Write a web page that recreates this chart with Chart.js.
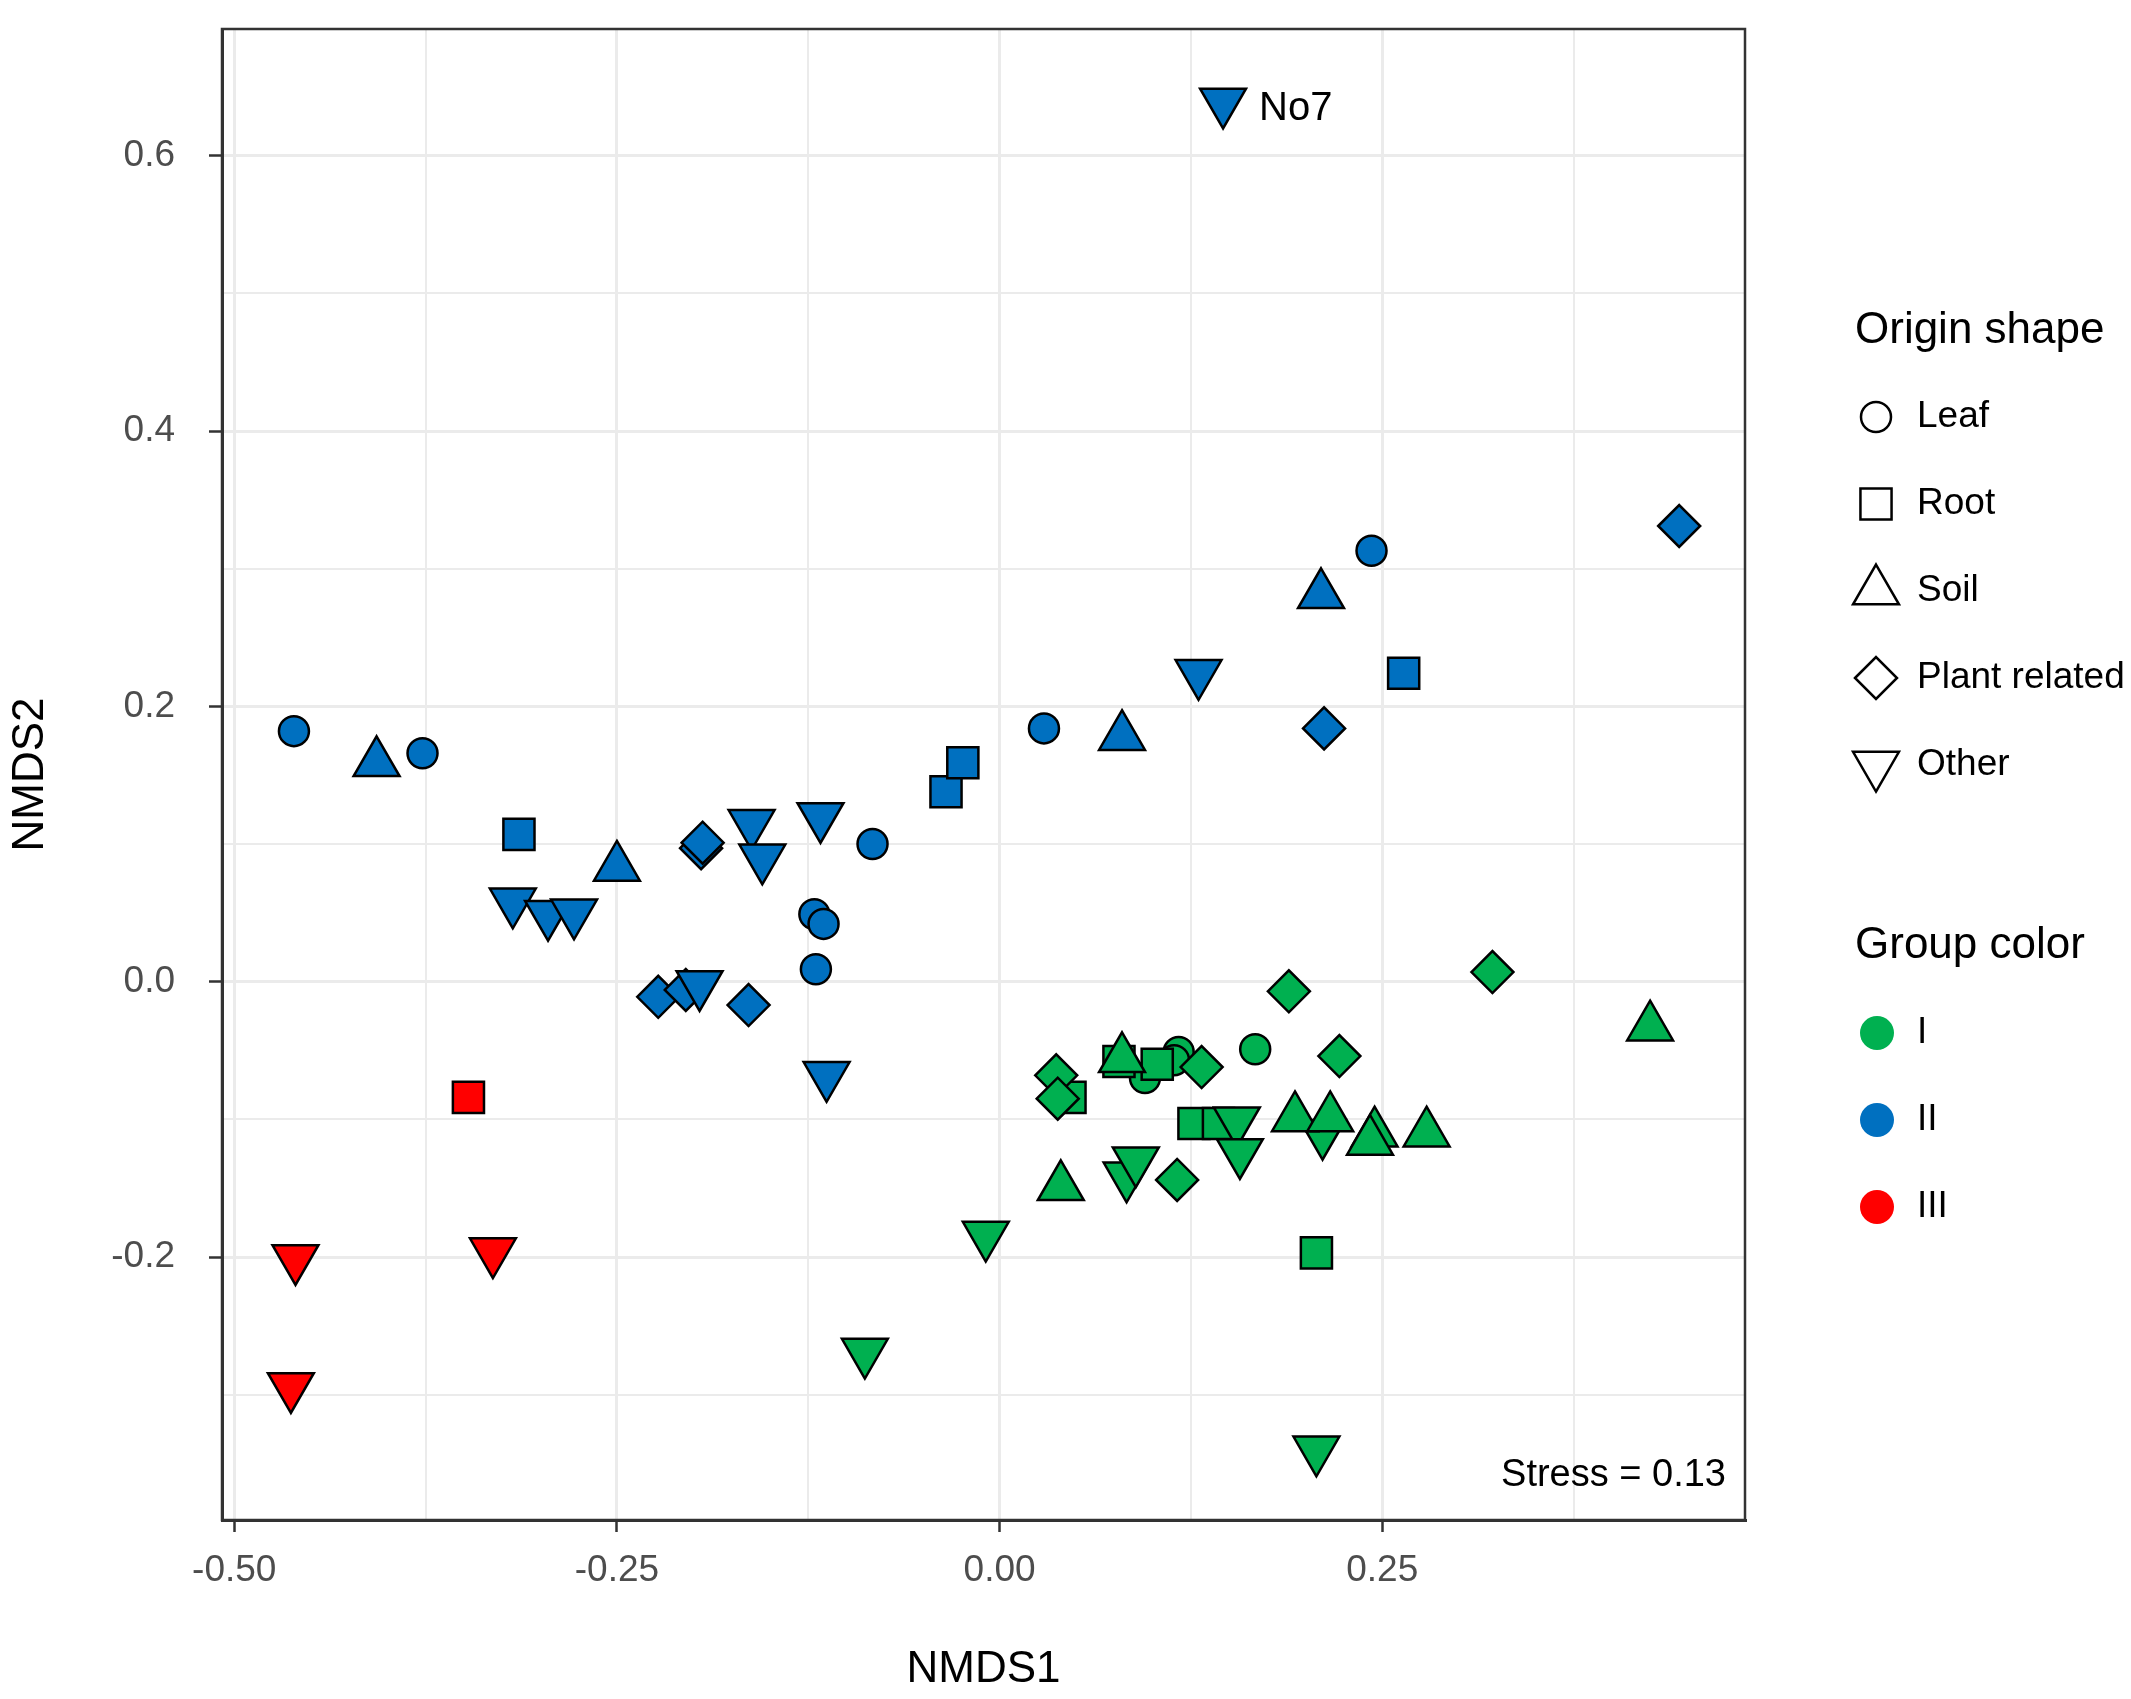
<!DOCTYPE html>
<html>
<head>
<meta charset="utf-8">
<title>NMDS</title>
<script src="https://cdn.jsdelivr.net/npm/chart.js@4.4.1/dist/chart.umd.min.js"></script>
<style>
  html, body { margin: 0; padding: 0; background: #fff; }
  #wrap { width: 2131px; height: 1699px; }
</style>
</head>
<body>
<div id="wrap"><canvas id="grafico" width="2131" height="1699"></canvas></div>
<script>
// pontos [NMDS1, NMDS2] por grupo (cor) e origem (forma)
const g1Leaf = [[0.167, -0.049], [0.095, -0.070], [0.117, -0.051], [0.114, -0.057]]
const g1Root = [[0.078, -0.058], [0.103, -0.060], [0.046, -0.084], [0.127, -0.103], [0.143, -0.103], [0.207, -0.197]]
const g1Soil = [[0.080, -0.056], [0.193, -0.099], [0.216, -0.099], [0.245, -0.110], [0.242, -0.116], [0.279, -0.110], [0.040, -0.149], [0.425, -0.033]]
const g1Plant = [[0.189, -0.007], [0.222, -0.054], [0.132, -0.062], [0.037, -0.068], [0.038, -0.085], [0.116, -0.144], [0.322, 0.007]]
const g1Other = [[0.155, -0.101], [0.157, -0.124], [0.211, -0.110], [0.083, -0.141], [0.089, -0.130], [-0.009, -0.184], [-0.088, -0.269], [0.207, -0.340]]

const g2Leaf = [[-0.461, 0.182], [-0.377, 0.166], [-0.083, 0.100], [-0.121, 0.049], [-0.115, 0.042], [-0.120, 0.009], [0.029, 0.184], [0.243, 0.313]]
const g2Root = [[-0.314, 0.107], [-0.035, 0.138], [-0.024, 0.159], [0.264, 0.224]]
const g2Soil = [[-0.407, 0.159], [-0.250, 0.083], [0.080, 0.178], [0.210, 0.281]]
const g2Plant = [[-0.195, 0.097], [-0.194, 0.101], [-0.223, -0.011], [-0.205, -0.006], [-0.164, -0.017], [0.212, 0.184], [0.444, 0.331]]
const g2Other = [[-0.318, 0.058], [-0.295, 0.049], [-0.278, 0.050], [-0.162, 0.115], [-0.155, 0.090], [-0.117, 0.120], [-0.196, -0.002], [-0.113, -0.068], [0.130, 0.224], [0.146, 0.639]]

const g3Root = [[-0.347, -0.084]]
const g3Other = [[-0.460, -0.201], [-0.331, -0.196], [-0.463, -0.294]]

const shapeNames = ['Leaf', 'Root', 'Soil', 'Plant related', 'Other']
const groupNames = ['I', 'II', 'III']
const groupColors = ['#00b050', '#0070c0', '#ff0000']
const xTicks = [-0.50, -0.25, 0.00, 0.25]
const yTicks = [-0.2, 0.0, 0.2, 0.4, 0.6]
const labelNo7 = { text: 'No7', point: [0.146, 0.639] }
const stressText = 'Stress = 0.13'

const FONTE = "'Liberation Sans', Arial, sans-serif"

// forma de cada origem
const estilos = ['circle', 'rect', 'triangle', 'rectRot', 'triangle']
const rotacoes = [0, 0, 0, 0, 180]
const raios = [15, 22, 26.5, 21, 26.5]

// ordem de desenho: [grupo, forma, dados]
const series = [
    [0, 2, g1Soil], [0, 4, g1Other], [0, 3, g1Plant], [0, 1, g1Root], [0, 0, g1Leaf],
    [1, 4, g2Other], [1, 3, g2Plant], [1, 2, g2Soil], [1, 1, g2Root], [1, 0, g2Leaf],
    [2, 1, g3Root], [2, 4, g3Other]
]

function ehMajor(lista, v) {
    return lista.some(t => Math.abs(t - v) < 1e-6)
}

// sem folga extra dos rótulos: o painel fica onde o layout manda
function semFolga(s) {
    s.paddingTop = 0
    s.paddingBottom = 0
    s.paddingLeft = 0
    s.paddingRight = 0
}

function desenhaForma(ctx, forma, x, y) {
    const r = raios[forma]
    ctx.beginPath()
    if (forma === 0) {
        ctx.arc(x, y, r, 0, Math.PI * 2)
    } else if (forma === 1) {
        const h = r * Math.SQRT1_2
        ctx.rect(x - h, y - h, 2 * h, 2 * h)
    } else if (forma === 2) {
        ctx.moveTo(x, y - r)
        ctx.lineTo(x + r * 0.866, y + r / 2)
        ctx.lineTo(x - r * 0.866, y + r / 2)
        ctx.closePath()
    } else if (forma === 3) {
        ctx.moveTo(x - r, y)
        ctx.lineTo(x, y - r)
        ctx.lineTo(x + r, y)
        ctx.lineTo(x, y + r)
        ctx.closePath()
    } else {
        ctx.moveTo(x, y + r)
        ctx.lineTo(x + r * 0.866, y - r / 2)
        ctx.lineTo(x - r * 0.866, y - r / 2)
        ctx.closePath()
    }
}

const extras = {
    id: 'extras',
    afterDraw(chart) {
        const ctx = chart.ctx
        const a = chart.chartArea
        const sx = chart.scales.x
        const sy = chart.scales.y
        ctx.save()

        // moldura do painel
        ctx.strokeStyle = '#333'
        ctx.lineWidth = 2.5
        ctx.strokeRect(a.left, a.top, a.right - a.left, a.bottom - a.top)

        // rótulo No7 e stress
        ctx.fillStyle = '#000'
        ctx.textBaseline = 'middle'
        ctx.textAlign = 'left'
        ctx.font = '40px ' + FONTE
        ctx.fillText(labelNo7.text, sx.getPixelForValue(labelNo7.point[0]) + 36, sy.getPixelForValue(labelNo7.point[1]) + 7)

        ctx.textAlign = 'right'
        ctx.textBaseline = 'alphabetic'
        ctx.font = '38px ' + FONTE
        ctx.fillText(stressText, a.right - 19, a.bottom - 34)

        // legenda: formas
        ctx.textAlign = 'left'
        ctx.textBaseline = 'middle'
        ctx.font = '44px ' + FONTE
        ctx.fillText('Origin shape', 1855, 331)
        ctx.font = '37px ' + FONTE
        shapeNames.forEach((nome, i) => {
            const y = 417 + i * 87
            desenhaForma(ctx, i, 1876, y)
            ctx.lineWidth = 2.5
            ctx.strokeStyle = '#000'
            ctx.stroke()
            ctx.fillText(nome, 1917, y)
        })

        // legenda: cores
        ctx.font = '44px ' + FONTE
        ctx.fillText('Group color', 1855, 946)
        ctx.font = '37px ' + FONTE
        groupNames.forEach((nome, i) => {
            const y = 1033 + i * 87
            ctx.beginPath()
            ctx.arc(1877, y, 17, 0, Math.PI * 2)
            ctx.fillStyle = groupColors[i]
            ctx.fill()
            ctx.fillStyle = '#000'
            ctx.fillText(nome, 1917, y)
        })
        ctx.restore()
    }
}

const datasets = series.map(([g, f, dados]) => ({
    label: groupNames[g] + ' ' + shapeNames[f],
    data: dados.map(p => ({ x: p[0], y: p[1] })),
    pointStyle: estilos[f],
    pointRotation: rotacoes[f],
    pointRadius: raios[f],
    pointHoverRadius: raios[f],
    backgroundColor: groupColors[g],
    borderColor: '#000',
    borderWidth: 2.5,
    pointHoverBorderWidth: 2.5
}))

Chart.defaults.font.family = FONTE

new Chart(document.getElementById('grafico').getContext('2d'), {
    type: 'scatter',
    data: { datasets: datasets },
    options: {
        responsive: false,
        devicePixelRatio: 1,
        animation: false,
        events: [],
        layout: { padding: { left: 0, right: 386, top: 29, bottom: 0 } },
        plugins: { legend: { display: false }, tooltip: { enabled: false } },
        scales: {
            x: {
                type: 'linear',
                min: -0.508,
                max: 0.487,
                afterFit: s => { s.height = 179; semFolga(s) },
                border: { display: true, color: '#333', width: 3 },
                grid: {
                    color: '#ebebeb',
                    lineWidth: c => ehMajor(xTicks, c.tick.value) ? 3 : 2,
                    tickColor: c => ehMajor(xTicks, c.tick.value) ? '#333' : 'rgba(0,0,0,0)',
                    tickLength: 12,
                    tickWidth: 2.5
                },
                ticks: {
                    stepSize: 0.125,
                    includeBounds: false,
                    maxRotation: 0,
                    autoSkip: false,
                    padding: 17,
                    color: '#4d4d4d',
                    font: { size: 37 },
                    callback: v => ehMajor(xTicks, v) ? v.toFixed(2) : ''
                },
                title: { display: true, text: 'NMDS1', color: '#000', font: { size: 44 }, padding: { top: 0, bottom: 3 } }
            },
            y: {
                type: 'linear',
                min: -0.391,
                max: 0.692,
                afterFit: s => { s.width = 222; semFolga(s) },
                border: { display: true, color: '#333', width: 3 },
                grid: {
                    color: '#ebebeb',
                    lineWidth: c => ehMajor(yTicks, c.tick.value) ? 3 : 2,
                    tickColor: c => ehMajor(yTicks, c.tick.value) ? '#333' : 'rgba(0,0,0,0)',
                    tickLength: 13,
                    tickWidth: 2.5
                },
                ticks: {
                    stepSize: 0.1,
                    includeBounds: false,
                    autoSkip: false,
                    padding: 34,
                    color: '#4d4d4d',
                    font: { size: 37 },
                    callback: v => ehMajor(yTicks, v) ? v.toFixed(1) : ''
                },
                title: { display: true, text: 'NMDS2', color: '#000', font: { size: 44 }, padding: { top: 4, bottom: 0 } }
            }
        }
    },
    plugins: [extras]
})
</script>
</body>
</html>
